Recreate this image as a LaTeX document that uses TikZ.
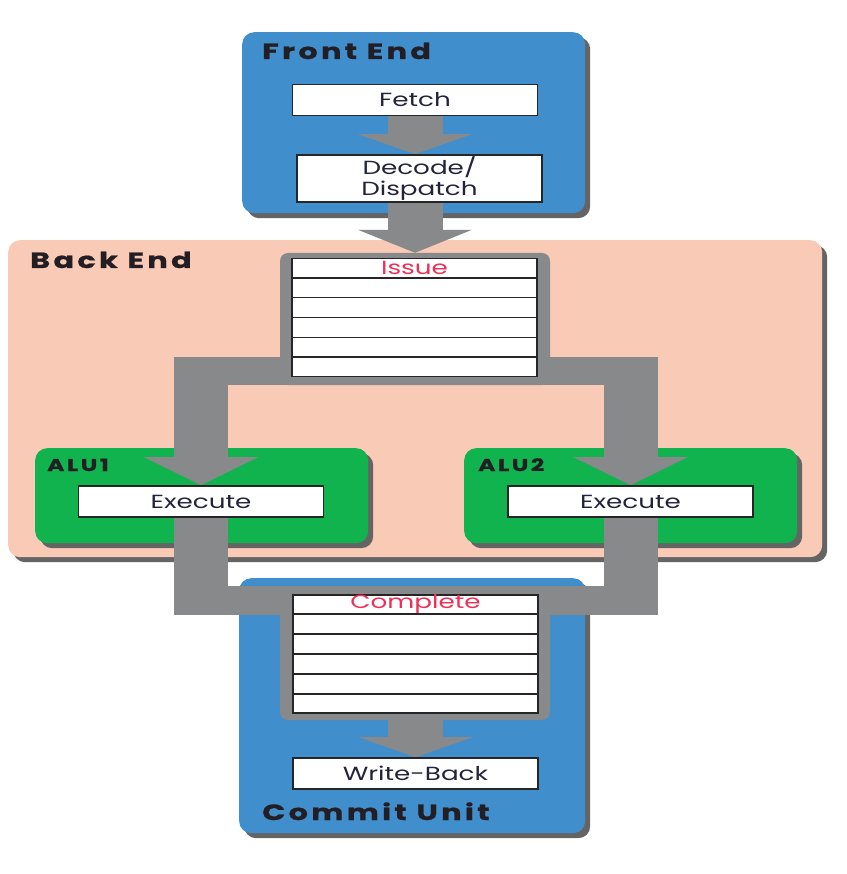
\documentclass[tikz,border=0pt]{standalone}
\usepackage{fontspec}
\setmainfont{Poppins}[FakeStretch=1.38,BoldFeatures={LetterSpace=15,FakeBold=0.8}]
\usetikzlibrary{arrows.meta,calc,shadows}

\definecolor{FrontBlue}{RGB}{64,142,204}
\definecolor{BackPeach}{RGB}{249,202,181}
\definecolor{AluGreen}{RGB}{17,179,79}
\definecolor{PipeGray}{RGB}{136,137,139}
\definecolor{ShadowGray}{RGB}{100,100,100}
\definecolor{TextNavy}{RGB}{35,35,60}
\definecolor{LabelBlack}{RGB}{35,30,35}
\definecolor{QueueRed}{RGB}{239,48,86}

\pgfdeclarelayer{panels}
\pgfdeclarelayer{pipes}
\pgfsetlayers{panels,pipes,main}

\tikzset{%
	% Style of the unit panel
	Panel/.style={fill=#1,rounded corners=12pt,anchor=north west,inner sep=0,
		drop shadow={shadow xshift=5pt,shadow yshift=-5pt,fill=ShadowGray,opacity=1}},
	% Style of the panel label
	PanelName/.style={font=\fontsize{22}{24}\selectfont\bfseries,text=LabelBlack,anchor=base west,inner sep=0},
	% Style of the pipeline stage
	Stage/.style={draw=black!85,line width=1.6pt,fill=white,minimum width=245pt,minimum height=31pt,
		inner sep=0,text=TextNavy,font=\fontsize{19}{21}\selectfont,align=center},
	% Style of the queue frame
	QueueFrame/.style={fill=PipeGray,rounded corners=8pt,minimum width=270pt,inner sep=0},
	% Style of the queue
	Queue/.style={draw=black!85,line width=1.6pt,fill=white,minimum width=245pt,minimum height=118pt,inner sep=0},
	% Style of the queue label
	QueueName/.style={text=QueueRed,font=\fontsize{19}{21}\selectfont,inner sep=0},
	% Style of the queue row line
	Row/.style={draw=black!85,line width=1.8pt},
	% Style of the pipe
	Pipe/.style={draw=PipeGray,line width=55pt,-{Triangle[length=#1,width=114pt,line width=0pt]}},
	Pipe/.default=20pt,
	% Style of the pipe without head
	Shaft/.style={draw=PipeGray,line width=54pt},
	% Style of the cross bar
	Bar/.style={draw=PipeGray,line width=#1},
}

\begin{document}
\begin{tikzpicture}[x=1pt,y=-1pt]
\useasboundingbox (0,0) rectangle (846,874);

%~~~~~~~~~~~~~~~~~~~~~~~~~~~~~~~~~~~~~~~~~~~~~~~~~~
% Set Panels
%~~~~~~~~~~~~~~~~~~~~~~~~~~~~~~~~~~~~~~~~~~~~~~~~~~
\begin{pgfonlayer}{panels}
\node[Panel=FrontBlue,minimum width=343pt,minimum height=181pt] (FrontEnd) at (242,32) {};
\node[Panel=BackPeach,minimum width=814pt,minimum height=317pt] (BackEnd) at (8,240) {};
\node[Panel=AluGreen,minimum width=333pt,minimum height=95pt] (Alu1) at (35,448) {};
\node[Panel=AluGreen,minimum width=333pt,minimum height=95pt] (Alu2) at (464,448) {};
\node[Panel=FrontBlue,minimum width=346pt,minimum height=255pt] (Commit) at (239,578) {};
\end{pgfonlayer}

\node[PanelName] (FrontEndName) at (262,59) {Front End};
\node[PanelName] (BackEndName) at (30,268) {Back End};
\node[PanelName] (CommitName) at (262,820) {Commit Unit};
\node[PanelName,font=\fontsize{17}{19}\selectfont\bfseries] (Alu1Name) at (47,471) {ALU1};
\node[PanelName,font=\fontsize{17}{19}\selectfont\bfseries] (Alu2Name) at (478,471) {ALU2};

%~~~~~~~~~~~~~~~~~~~~~~~~~~~~~~~~~~~~~~~~~~~~~~~~~~
% Set Stages
%~~~~~~~~~~~~~~~~~~~~~~~~~~~~~~~~~~~~~~~~~~~~~~~~~~
\node[Stage] (Fetch) at (415,100) {Fetch};
\node[Stage,minimum height=47pt] (Decode) at (419.5,178.5) {Decode/\\Dispatch};
\node[Stage] (Exec1) at (201,501.5) {Execute};
\node[Stage] (Exec2) at (630.5,501.5) {Execute};
\node[Stage] (WriteBack) at (415.5,773.5) {Write-Back};

%~~~~~~~~~~~~~~~~~~~~~~~~~~~~~~~~~~~~~~~~~~~~~~~~~~
% Set Queues
%~~~~~~~~~~~~~~~~~~~~~~~~~~~~~~~~~~~~~~~~~~~~~~~~~~
\begin{pgfonlayer}{pipes}
\node[QueueFrame,minimum height=132pt] (IssueFrame) at (415,319) {};
\node[QueueFrame,minimum height=134pt] (CompleteFrame) at (415,653) {};
\end{pgfonlayer}

\node[Queue] (IssueQ) at (414.5,317.5) {};
\node[Queue] (CompleteQ) at (415.5,654) {};
\foreach \k in {1,...,5}{
	\draw[Row] ($(IssueQ.north west)!\k/6!(IssueQ.south west)$) -- ($(IssueQ.north east)!\k/6!(IssueQ.south east)$);
	\draw[Row] ($(CompleteQ.north west)!\k/6!(CompleteQ.south west)$) -- ($(CompleteQ.north east)!\k/6!(CompleteQ.south east)$);
}
\node[QueueName] (IssueName) at ($(IssueQ.north)!0.5/6!(IssueQ.south)$) {Issue};
\node[QueueName] (CompleteName) at ($(CompleteQ.north)!0.5/6!(CompleteQ.south)$) {Complete};

%~~~~~~~~~~~~~~~~~~~~~~~~~~~~~~~~~~~~~~~~~~~~~~~~~~
% Set Pipes
%~~~~~~~~~~~~~~~~~~~~~~~~~~~~~~~~~~~~~~~~~~~~~~~~~~
\coordinate (IssueTap) at ($(IssueFrame.south)+(0,-14)$);
\coordinate (CommitTap) at ($(CompleteFrame.north)+(0,14.5)$);

\begin{pgfonlayer}{pipes}
%Pipe from Fetch to Decode
\draw[Pipe] (Fetch.south) -- (Fetch.south |- Decode.north);
%Pipe from Decode to Issue
\draw[Pipe=23pt] (Fetch.south |- Decode.south) -- (Fetch.south |- IssueFrame.north);
%Pipes from Issue to the ALUs
\draw[Bar=28pt] (Exec1.north |- IssueTap) -- (Exec2.north |- IssueTap);
\draw[Pipe=28pt,line width=54pt] ($(Exec1.north |- IssueTap)+(0,-14)$) -- (Exec1.north);
\draw[Pipe=28pt,line width=54pt] ($(Exec2.north |- IssueTap)+(0,-14)$) -- (Exec2.north);
%Pipes from the ALUs to Complete
\draw[Shaft] (Exec1.south) -- ($(Exec1.south |- CommitTap)+(0,14.5)$);
\draw[Shaft] (Exec2.south) -- ($(Exec2.south |- CommitTap)+(0,14.5)$);
\draw[Bar=29pt] ($(Exec1.south |- CommitTap)+(-27,0)$) -- ($(Exec2.south |- CommitTap)+(27,0)$);
%Pipe from Complete to Write-Back
\draw[Pipe] (WriteBack.north |- CompleteFrame.south) -- (WriteBack.north);
\end{pgfonlayer}

\end{tikzpicture}
\end{document}
